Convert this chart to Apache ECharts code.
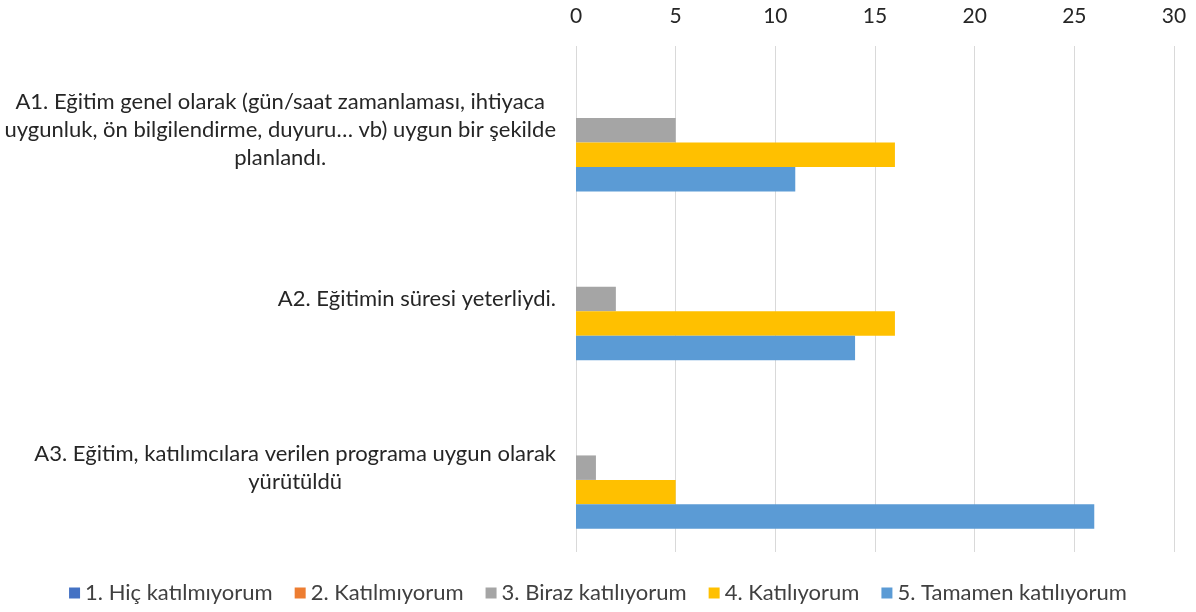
<!DOCTYPE html>
<html>
<head>
<meta charset="utf-8">
<script src="https://cdn.jsdelivr.net/npm/echarts@6/dist/echarts.min.js"></script>
<style>
  html, body { margin: 0; padding: 0; background: #fff; }
  #chart { width: 1196px; height: 612px; }
</style>
</head>
<body>
<div id="chart"></div>
<script>
// categories (line breaks as in the picture)
var categories = [
    'A1. Eğitim genel olarak (gün/saat zamanlaması, ihtiyaca\nuygunluk, ön bilgilendirme, duyuru… vb) uygun bir şekilde\nplanlandı.',
    'A2. Eğitimin süresi yeterliydi.',
    'A3. Eğitim, katılımcılara verilen programa uygun olarak\nyürütüldü'
];
var seriesNames = ['1. Hiç katılmıyorum', '2. Katılmıyorum', '3. Biraz katılıyorum', '4. Katılıyorum', '5. Tamamen katılıyorum'];
var hicKatilmiyorum = [0, 0, 0];
var katilmiyorum = [0, 0, 0];
var birazKatiliyorum = [5, 2, 1];
var katiliyorum = [16, 16, 5];
var tamamenKatiliyorum = [11, 14, 26];
var colors = ['#4472C4', '#ED7D31', '#A5A5A5', '#FFC000', '#5B9BD5'];

var seriesData = [hicKatilmiyorum, katilmiyorum, birazKatiliyorum, katiliyorum, tamamenKatiliyorum];
var font = 'Lato';

var chart = echarts.init(document.getElementById('chart'));
chart.setOption({
    animation: false,
    color: colors,
    textStyle: { fontFamily: font },
    grid: { left: 576, right: 22, top: 46, bottom: 60 },
    legend: {
        bottom: 3,
        left: 'center',
        itemWidth: 11,
        itemHeight: 11,
        itemGap: 22,
        icon: 'rect',
        data: seriesNames,
        textStyle: { fontSize: 22, color: '#404040', fontFamily: font }
    },
    xAxis: {
        type: 'value',
        position: 'top',
        min: 0,
        max: 30,
        interval: 5,
        axisLine: { show: false },
        axisTick: { show: false },
        axisLabel: { fontSize: 21, color: '#262626', margin: 19 },
        splitLine: { lineStyle: { color: '#D9D9D9', width: 1 } }
    },
    yAxis: {
        type: 'category',
        inverse: true,
        data: categories,
        axisLine: { show: false },
        axisTick: { show: false },
        axisLabel: {
            margin: 20,
            formatter: function (v) {
                return v.split('\n').map(function (l) { return '{c|' + l + '}'; }).join('\n');
            },
            rich: {
                c: { fontSize: 22, color: '#262626', align: 'center', lineHeight: 28, fontFamily: font }
            }
        }
    },
    series: seriesNames.map(function (name, i) {
        return {
            name: name,
            type: 'bar',
            data: seriesData[i],
            barGap: '0%',
            barCategoryGap: '27.5%'
        };
    })
});
</script>
</body>
</html>
